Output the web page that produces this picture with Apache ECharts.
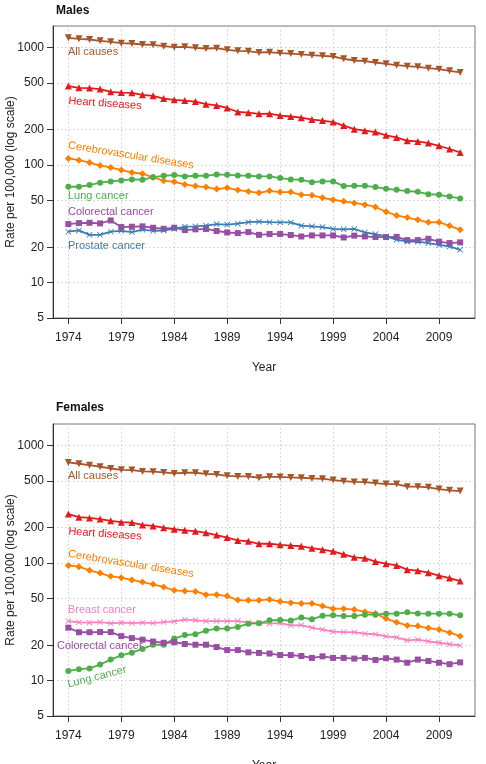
<!DOCTYPE html>
<html><head><meta charset="utf-8">
<script src="https://cdn.jsdelivr.net/npm/echarts@6/dist/echarts.min.js"></script>
<style>html,body{margin:0;padding:0;background:#fff}#c{width:486px;height:764px}</style>
</head><body><div id="c"></div>
<script>
const years = [1974,1975,1976,1977,1978,1979,1980,1981,1982,1983,1984,1985,1986,1987,1988,1989,1990,1991,1992,1993,1994,1995,1996,1997,1998,1999,2000,2001,2002,2003,2004,2005,2006,2007,2008,2009,2010,2011];
const xTicks = [1974,1979,1984,1989,1994,1999,2004,2009];
const yTicks = [5,10,20,50,100,200,500,1000];

// Males
const maleAll = [1210,1186,1171,1140,1118,1089,1082,1061,1054,1027,1007,1014,994,981,988,956,937,931,907,913,895,889,873,861,850,839,801,776,766,746,727,708,694,685,668,655,634,614];
const maleHeart = [470,454,452,443,420,414,412,396,388,368,359,354,347,330,322,306,283,279,273,274,264,259,253,244,239,232,217,202,196,191,179,172,161,159,154,146,137,128];
const maleCerebro = [113.8,110,105,99,95.4,90.6,86.5,84.4,78.5,73.6,72.1,68.4,66.3,65.0,62.5,64.1,61.3,59.7,58.1,60.4,58.9,58.9,55.8,55.5,52.7,50.7,49.2,47.6,46.0,44.0,40.1,37.3,35.8,34.2,32.6,32.7,30.4,28.2];
const maleLung = [65.4,65.4,67.6,70.8,72.6,74.0,75.5,75.0,79.0,81.1,82.2,80.0,81.1,81.1,83.2,82.7,81.6,81.1,80.0,80.0,77.5,75.5,75.0,71.6,72.6,72.6,66.3,66.6,66.6,65.0,62.9,61.6,60.1,59.3,56.6,55.9,54.0,52.0];
const maleColorectal = [31.5,32.1,32.3,31.9,33.8,29.7,29.9,30.1,29.3,28.7,29.3,28.0,28.4,28.6,27.5,26.7,26.4,26.9,25.5,25.9,25.9,25.4,24.7,25.2,25.2,25.2,24.2,25.1,24.7,24.4,24.4,24.5,23.0,23.0,23.6,22.3,21.7,22.0];
const maleProstate = [27.1,27.8,25.5,25.5,27.1,27.6,26.9,28.2,27.5,27.8,28.7,29.9,30.1,30.5,31.5,31.2,31.7,32.7,33.0,32.7,32.5,32.5,30.5,30.1,29.7,28.6,28.4,28.6,26.7,25.9,24.7,23.2,22.3,22.3,21.7,20.9,20.3,19.0];

// Females
const femAll = [718,700,681,660,638,622,618,602,599,590,579,587,587,575,568,553,546,546,532,543,539,535,532,525,522,508,498,490,489,479,470,470,447,447,441,426,416,410];
const femHeart = [261,246,242,237,229,223,221,211,207,200,194,190,187,181,173,165,156,153,146,146,143,141,139,134,130,126,118.6,112,110,103,98.8,95.5,87.9,86.1,82.8,78.1,74.5,70.3];
const femCerebro = [95.6,93.2,86.7,82.2,77.1,75.2,71.8,69.0,66.0,62.6,58.6,57.8,57.4,53.8,53.8,52.4,48.4,48.2,48.2,49.1,47.0,46.0,45.4,45.4,43.1,40.9,40.9,40.2,38.6,37.3,33.7,31.3,29.5,29.1,28.0,27.2,25.6,23.9];
const femBreast = [32.1,31.3,31.1,31.5,30.7,31.1,30.9,31.1,30.9,31.5,31.9,33.0,32.6,32.1,32.1,32.1,32.1,31.1,31.1,30.5,30.9,29.5,29.7,28.2,27.2,26.1,25.9,25.8,25.1,24.8,23.8,23.3,22.0,22.3,21.6,21.0,20.4,19.9];
const femLung = [12.1,12.5,12.7,13.7,15.1,16.4,17.3,18.6,20.2,20.2,22.8,24.4,24.8,26.6,27.7,27.7,28.6,30.5,30.7,32.6,32.8,32.4,34.5,33.2,35.7,35.9,35.4,35.4,36.4,36.4,37.1,37.1,38.1,37.3,37.1,37.1,37.1,35.9];
const femColorectal = [28.2,25.8,25.8,25.9,25.9,23.9,23.0,22.3,21.5,21.0,21.2,20.5,20.2,20.2,19.3,18.2,18.2,17.4,17.2,17.0,16.5,16.5,16.2,15.6,16.1,15.6,15.6,15.4,15.6,15.0,15.5,15.1,14.2,15.1,14.7,14.2,13.8,14.3];

const C = {all:'#a65628', heart:'#e41a1c', cereb:'#ff7f00', lung:'#4daf4a', colo:'#984ea3', pros:'#377eb8', breast:'#f781bf'};
const FONT = "'Liberation Sans', Arial, Helvetica, sans-serif";
const CROSS = 'path://M1,0L5,4L9,0L10,1L6,5L10,9L9,10L5,6L1,10L0,9L4,5L0,1Z';

function mk(name, vals, color, symbol, size, gi, rot) {
  return {
    type:'line', name, xAxisIndex:gi, yAxisIndex:gi,
    data: years.map((y,i)=>[y, vals[i]]),
    symbol, symbolSize:size, symbolRotate: rot||0,
    lineStyle:{color, width:1.8}, itemStyle:{color},
    emphasis:{disabled:true}, animation:false, z:3
  };
}

function xAx(gi) {
  return {
    gridIndex:gi, type:'value', min:1972.55, max:2012.4,
    axisLine:{show:true, onZero:false, lineStyle:{color:'#333', width:1}},
    axisTick:{show:true, length:6, customValues:xTicks, lineStyle:{color:'#333'}},
    axisLabel:{customValues:xTicks, formatter:v=>String(Math.round(v)), color:'#222', fontSize:12, fontFamily:FONT, margin:14},
    splitLine:{show:true, lineStyle:{color:'#cfcfcf', type:[1.5,2.5], width:1}},
    name:'Year', nameLocation:'middle', nameGap:44, nameMoveOverlap:false,
    nameTextStyle:{color:'#222', fontSize:12, fontFamily:FONT}
  };
}
function yAx(gi) {
  return {
    gridIndex:gi, type:'log', logBase:10, min:5, max:1525,
    axisLine:{show:true, lineStyle:{color:'#333', width:1}},
    axisTick:{show:true, length:6, customValues:yTicks, lineStyle:{color:'#333'}},
    axisLabel:{customValues:yTicks, formatter:v=>String(Math.round(v)), color:'#222', fontSize:12, fontFamily:FONT, margin:9},
    splitLine:{show:true, lineStyle:{color:'#cfcfcf', type:[1.5,2.5], width:1}},
    name:'Rate per 100,000 (log scale)', nameLocation:'middle', nameGap:36, nameRotate:90, nameMoveOverlap:false,
    nameTextStyle:{color:'#222', fontSize:12, fontFamily:FONT}
  };
}

function lab(text, x, y, color, rot, align) {
  return {type:'text', x, y, rotation: rot||0, z:10,
    style:{text, fill:color, font:'11px '+FONT,
      align: align||'left', textAlign: align||'left', verticalAlign:'middle', textVerticalAlign:'middle'}};
}

const chart = echarts.init(document.getElementById('c'), null, {renderer:'canvas'});
chart.setOption({
  backgroundColor:'#fff',
  animation:false,
  title:[
    {text:'Males', left:51, top:0, textStyle:{fontSize:12, fontWeight:'bold', color:'#111', fontFamily:FONT}},
    {text:'Females', left:51, top:397, textStyle:{fontSize:12, fontWeight:'bold', color:'#111', fontFamily:FONT}}
  ],
  grid:[
    {left:53, top:26, width:422, height:292, show:true, borderColor:'#777', borderWidth:1, backgroundColor:'#fff', containLabel:false, outerBoundsMode:'none'},
    {left:53, top:424, width:422, height:292, show:true, borderColor:'#777', borderWidth:1, backgroundColor:'#fff', containLabel:false, outerBoundsMode:'none'}
  ],
  xAxis:[xAx(0), xAx(1)],
  yAxis:[yAx(0), yAx(1)],
  series:[
    mk('All causes', maleAll, C.all, 'triangle', 7, 0, 180),
    mk('Heart diseases', maleHeart, C.heart, 'triangle', 7, 0),
    mk('Cerebrovascular diseases', maleCerebro, C.cereb, 'diamond', 7, 0),
    mk('Lung cancer', maleLung, C.lung, 'circle', 6, 0),
    mk('Colorectal cancer', maleColorectal, C.colo, 'rect', 6, 0),
    mk('Prostate cancer', maleProstate, C.pros, CROSS, 6, 0),
    mk('All causes', femAll, C.all, 'triangle', 7, 1, 180),
    mk('Heart diseases', femHeart, C.heart, 'triangle', 7, 1),
    mk('Cerebrovascular diseases', femCerebro, C.cereb, 'diamond', 7, 1),
    mk('Breast cancer', femBreast, C.breast, CROSS, 6, 1),
    mk('Lung cancer', femLung, C.lung, 'circle', 6, 1),
    mk('Colorectal cancer', femColorectal, C.colo, 'rect', 6, 1)
  ],
  graphic:[
    lab('All causes', 68, 52, C.all),
    lab('Heart diseases', 105, 103.5, C.heart, -0.07, 'center'),
    lab('Cerebrovascular diseases', 131, 155.5, C.cereb, -0.16, 'center'),
    lab('Lung cancer', 68, 196, C.lung),
    lab('Colorectal cancer', 68, 212, C.colo),
    lab('Prostate cancer', 68, 245.5, C.pros),
    lab('All causes', 68, 476, C.all),
    lab('Heart diseases', 105, 534, C.heart, -0.07, 'center'),
    lab('Cerebrovascular diseases', 131, 564, C.cereb, -0.16, 'center'),
    lab('Breast cancer', 68, 609.5, C.breast),
    lab('Colorectal cancer', 57, 645.5, C.colo),
    lab('Lung cancer', 97, 677, C.lung, 0.25, 'center')
  ]
});
</script></body></html>
